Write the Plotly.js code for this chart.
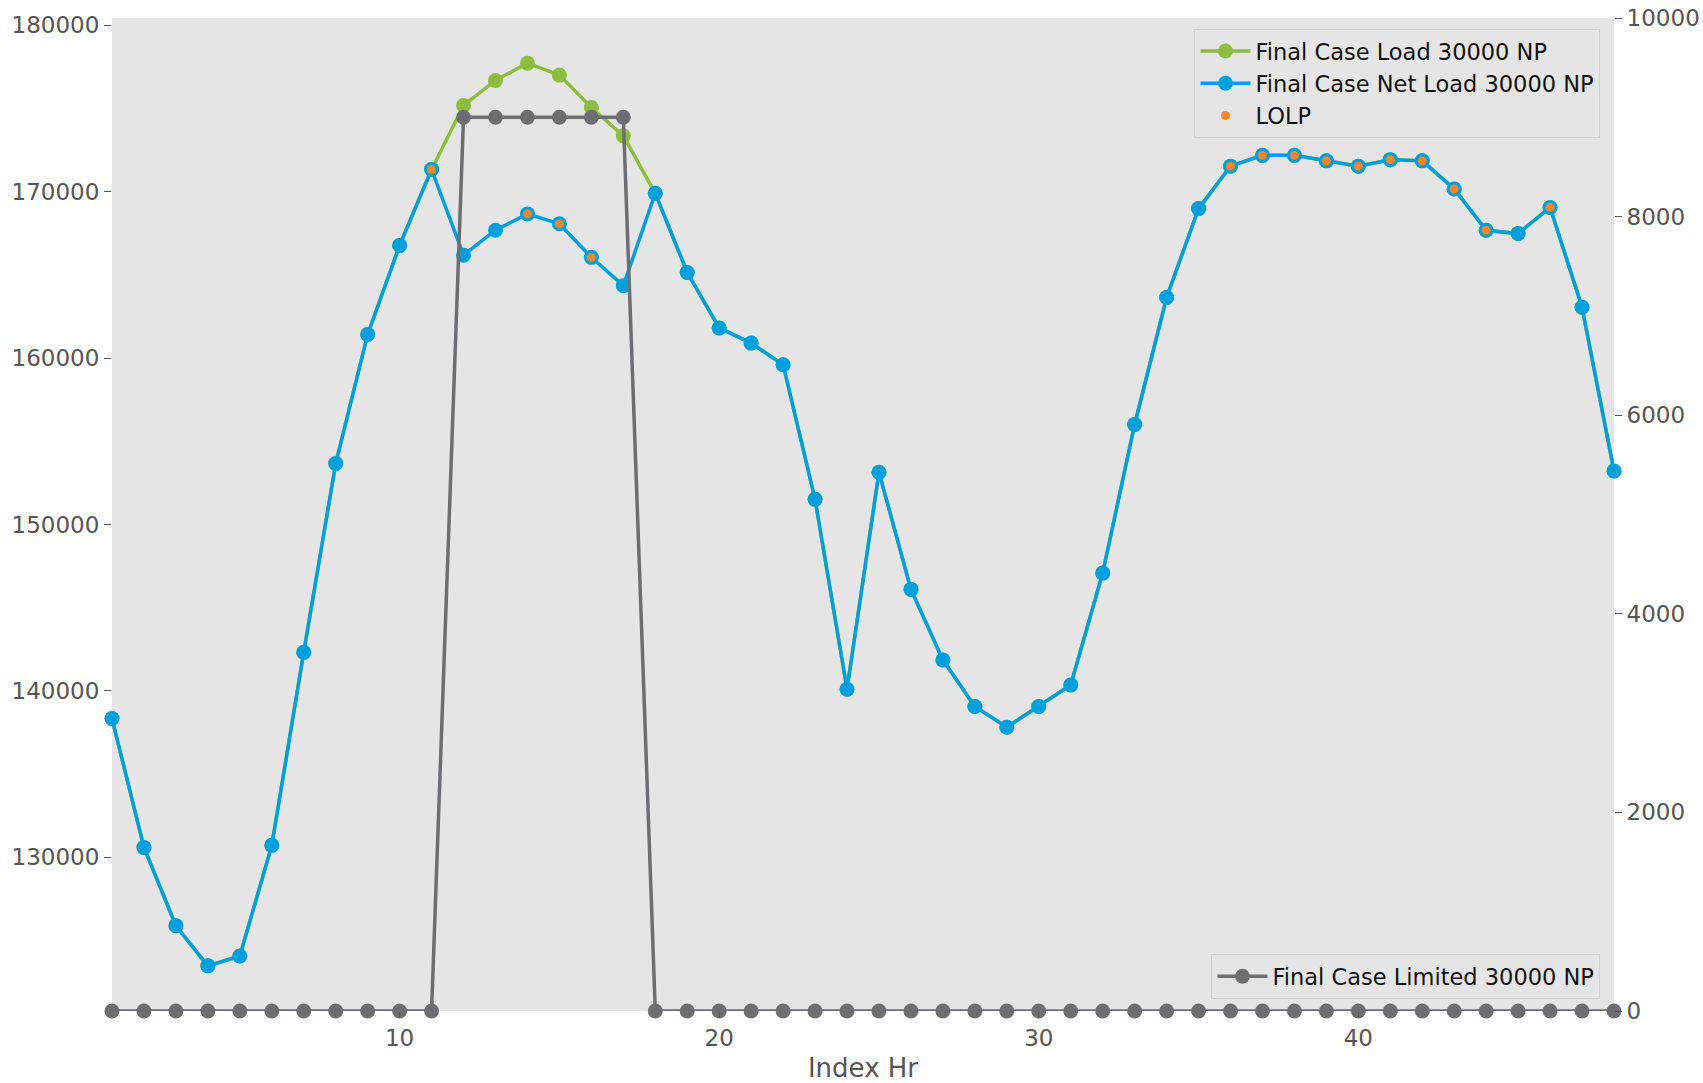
<!DOCTYPE html>
<html>
<head>
<meta charset="utf-8">
<script src="https://cdn.plot.ly/plotly-3.0.1.min.js"></script>
<style>html,body{margin:0;padding:0;background:#fff;}#chart{width:1703px;height:1083px;}</style>
</head>
<body>
<div id="chart"></div>
<script>
const hours = [1,2,3,4,5,6,7,8,9,10,11,12,13,14,15,16,17,18,19,20,21,22,23,24,25,26,27,28,29,30,31,32,33,34,35,36,37,38,39,40,41,42,43,44,45,46,47,48];

const loadValues = [138340,130590,125890,123480,124070,130720,142320,153660,161420,166770,171330,175180,176680,177720,177000,175050,173350,169900,165140,161810,160900,159600,151510,140100,153140,146100,141860,139060,137820,139060,140360,147080,156010,163640,168980,171530,172180,172180,171850,171530,171920,171850,170160,167680,167480,169050,163050,153210];

const netLoadValues = [138340,130590,125890,123480,124070,130720,142320,153660,161420,166770,171330,166180,167680,168660,168070,166050,164350,169900,165140,161810,160900,159600,151510,140100,153140,146100,141860,139060,137820,139060,140360,147080,156010,163640,168980,171530,172180,172180,171850,171530,171920,171850,170160,167680,167480,169050,163050,153210];

const lolpHours = [11,14,15,16,36,37,38,39,40,41,42,43,44,46];

const limitedValues = [0,0,0,0,0,0,0,0,0,0,0,9000,9000,9000,9000,9000,9000,0,0,0,0,0,0,0,0,0,0,0,0,0,0,0,0,0,0,0,0,0,0,0,0,0,0,0,0,0,0,0];

const seriesNames = ["Final Case Load 30000 NP","Final Case Net Load 30000 NP","LOLP","Final Case Limited 30000 NP"];
const xTitle = "Index Hr";

const lolpY = lolpHours.map(h => netLoadValues[hours.indexOf(h)]);

const allLeft = loadValues.concat(netLoadValues);
const lo = Math.min(...allLeft), hi = Math.max(...allLeft);
const pad = (hi - lo) * 0.05;

const font = "DejaVu Sans, Liberation Sans, sans-serif";

const traces = [
  {x: hours, y: loadValues, name: seriesNames[0], type: "scatter", mode: "lines+markers",
   line: {color: "#8dbd3e", width: 3.5}, marker: {color: "#8dbd3e", size: 15}, cliponaxis: false, legend: "legend"},
  {x: hours, y: netLoadValues, name: seriesNames[1], type: "scatter", mode: "lines+markers",
   line: {color: "#00a0de", width: 3.5}, marker: {color: "#00a0de", size: 15}, cliponaxis: false, legend: "legend"},
  {x: lolpHours, y: lolpY, name: seriesNames[2], type: "scatter", mode: "markers",
   marker: {color: "#f3862a", size: 9}, cliponaxis: false, legend: "legend"},
  {x: hours, y: limitedValues, name: seriesNames[3], type: "scatter", mode: "lines+markers", yaxis: "y2",
   line: {color: "#6d6e71", width: 3.5}, marker: {color: "#6d6e71", size: 15}, cliponaxis: false, legend: "legend2"}
];

const layout = {
  width: 1703, height: 1083,
  margin: {l: 112, r: 89, t: 18, b: 72},
  paper_bgcolor: "#ffffff",
  plot_bgcolor: "#e5e5e5",
  font: {family: font, size: 23, color: "#555555"},
  showlegend: true,
  xaxis: {
    range: [1, 48], tick0: 0, dtick: 10, showgrid: false, zeroline: false,
    ticks: "outside", ticklen: 6, tickcolor: "#555555", showline: false,
    tickfont: {size: 23, color: "#555555"},
    title: {text: xTitle, font: {size: 26, color: "#555555"}, standoff: 10}
  },
  yaxis: {
    range: [lo - pad, hi + pad], tick0: 0, dtick: 10000, tickformat: "d",
    showgrid: false, zeroline: false, ticks: "outside", ticklen: 7, tickcolor: "#555555",
    tickfont: {size: 23, color: "#555555"}
  },
  yaxis2: {
    overlaying: "y", side: "right", range: [0, 10000], tick0: 0, dtick: 2000, tickformat: "d",
    showgrid: false, zeroline: false, ticks: "outside", ticklen: 7, tickcolor: "#555555",
    tickfont: {size: 23, color: "#555555"}
  },
  legend: {
    x: 0.991, y: 0.989, xanchor: "right", yanchor: "top",
    bgcolor: "#e5e5e5", bordercolor: "#d0d0d0", borderwidth: 1,
    font: {family: font, size: 22.5, color: "#111111"}, itemwidth: 50
  },
  legend2: {
    x: 0.991, y: 0.012, xanchor: "right", yanchor: "bottom",
    bgcolor: "#e5e5e5", bordercolor: "#d0d0d0", borderwidth: 1,
    font: {family: font, size: 22.5, color: "#111111"}, itemwidth: 50
  }
};

Plotly.newPlot("chart", traces, layout, {displayModeBar: false, staticPlot: true});
</script>
</body>
</html>
